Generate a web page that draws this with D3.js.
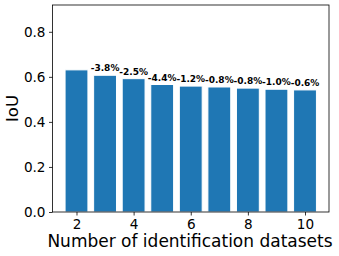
<!DOCTYPE html>
<html>
<head>
<meta charset="utf-8">
<script src="https://cdn.jsdelivr.net/npm/d3@7"></script>
<style>
  body { margin: 0; background: #fff; }
  svg { display: block; font-family: "DejaVu Sans", sans-serif; }
</style>
</head>
<body>
<svg width="339" height="256"></svg>
<script>
var datasets = [2, 3, 4, 5, 6, 7, 8, 9, 10];
var iou = [0.631, 0.607, 0.592, 0.566, 0.559, 0.555, 0.550, 0.545, 0.542];
var dropLabels = ['', '-3.8%', '-2.5%', '-4.4%', '-1.2%', '-0.8%', '-0.8%', '-1.0%', '-0.6%'];
var yTicks = [0.0, 0.2, 0.4, 0.6, 0.8];
var xTicks = [2, 4, 6, 8, 10];

var svg = d3.select('svg');
var margin = { left: 52.5, right: 10, top: 5, bottom: 44 };
var width = 339 - margin.left - margin.right;
var height = 256 - margin.top - margin.bottom;

var g = svg.append('g')
  .attr('transform', 'translate(' + margin.left + ',' + margin.top + ')');

var x = d3.scaleLinear()
  .domain([1.16, 10.84])
  .range([0, width]);

var y = d3.scaleLinear()
  .domain([0, 0.919])
  .range([height, 0]);

var barW = x(0.8) - x(0);

g.selectAll('rect.bar')
  .data(iou)
  .enter().append('rect')
  .attr('class', 'bar')
  .attr('x', function(d, i) { return x(datasets[i]) - barW / 2; })
  .attr('y', function(d) { return y(d); })
  .attr('width', barW)
  .attr('height', function(d) { return y(0) - y(d); })
  .attr('fill', '#1f77b4')
  .attr('stroke', '#ffffff')
  .attr('stroke-width', 1);

g.selectAll('text.drop')
  .data(iou)
  .enter().append('text')
  .attr('class', 'drop')
  .attr('x', function(d, i) { return x(datasets[i]); })
  .attr('y', function(d) { return y(d) - 4; })
  .attr('text-anchor', 'middle')
  .attr('font-size', '9px')
  .attr('font-weight', 'bold')
  .text(function(d, i) { return dropLabels[i]; });

var xAxis = g.append('g')
  .attr('transform', 'translate(0,' + height + ')')
  .call(d3.axisBottom(x).tickValues(xTicks).tickSize(3.5).tickPadding(3.5).tickFormat(d3.format('d')));

var yAxis = g.append('g')
  .call(d3.axisLeft(y).tickValues(yTicks).tickSize(3.5).tickPadding(3.5).tickFormat(d3.format('.1f')));

[xAxis, yAxis].forEach(function(a) {
  a.select('.domain').remove();
  a.selectAll('text').attr('font-size', '13.6px').attr('fill', '#000').attr('font-family', '"DejaVu Sans", sans-serif');
  a.selectAll('line').attr('stroke', '#000').attr('stroke-width', 0.8);
});

g.append('rect')
  .attr('x', 0).attr('y', 0)
  .attr('width', width).attr('height', height)
  .attr('fill', 'none')
  .attr('stroke', '#000')
  .attr('stroke-width', 0.8);

svg.append('text')
  .attr('x', 190)
  .attr('y', 247)
  .attr('text-anchor', 'middle')
  .attr('font-size', '17px')
  .text('Number of identification datasets');

svg.append('text')
  .attr('transform', 'translate(18,' + (margin.top + height / 2) + ') rotate(-90)')
  .attr('text-anchor', 'middle')
  .attr('font-size', '16.5px')
  .text('IoU');
</script>
</body>
</html>
